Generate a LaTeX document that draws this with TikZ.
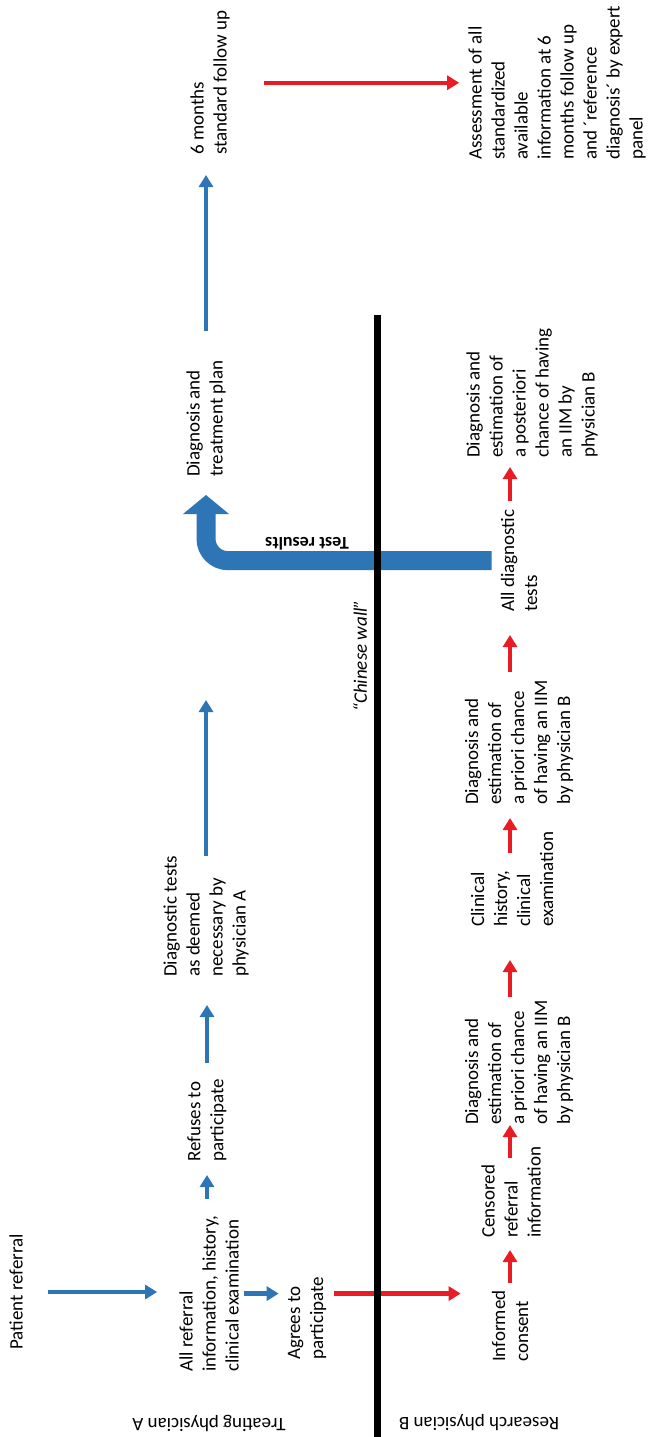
\documentclass[tikz,border=0pt]{standalone}
\usepackage{fontspec}
\setmainfont{Carlito}
\usepackage{xcolor}
\usetikzlibrary{arrows.meta}
\definecolor{flowblue}{RGB}{46,117,182}
\definecolor{flowred}{RGB}{232,28,36}

\begin{document}
\begin{tikzpicture}[x=1pt, y=-1pt,
  txt/.style={rotate=90, anchor=west, align=left, inner sep=0pt, font=\fontsize{19}{23}\selectfont},
  side/.style={rotate=180, inner sep=0pt, font=\fontsize{19}{23}\selectfont},
  bluearr/.style={draw=flowblue, line width=4.5pt, -{Triangle[width=14pt,length=12pt]}},
  redarr/.style={draw=flowred, line width=4.5pt, -{Triangle[width=14pt,length=12pt]}},
  bigarr/.style={draw=flowblue, line width=19pt, rounded corners=22pt, -{Triangle[width=45pt,length=19pt]}},
  wall/.style={line width=7pt, black}]
\fill[white] (0,0) rectangle (648,1437);
\useasboundingbox (0,0) rectangle (648,1437);

% --- treating physician A ---
\node[txt] (ref) at (16,1350) {Patient referral};
\node[txt] (allref) at (209,1372) {All referral\\information, history,\\clinical examination};
\node[txt] (agree) at (307,1360) {Agrees to\\participate};
\node[txt] (refuse) at (207,1162) {Refuses to\\participate};
\node[txt] (dtests) at (206,977) {Diagnostic tests\\as deemed\\necessary by\\physician A};
\node[txt] (plan) at (206,477) {Diagnosis and\\treatment plan};
\node[txt] (follow) at (210,155) {6 months\\standard follow up};
\node[txt] (assess) at (557,160) {Assessment of all\\standardized\\available\\information at 6\\months follow up\\and ´reference\\diagnosis´ by expert\\panel};
\coordinate (dtestsend) at (206,700);

% --- research physician B ---
\node[txt] (consent) at (510,1362) {Informed\\consent};
\node[txt] (censor) at (511,1238) {Censored\\referral\\information};
\node[txt] (prior1) at (519,1125) {Diagnosis and\\estimation of\\a priori chance\\of having an IIM\\by physician B};
\node[txt] (clin) at (512,927) {Clinical\\history,\\clinical\\examination};
\node[txt] (prior2) at (519,805) {Diagnosis and\\estimation of\\a priori chance\\of having an IIM\\by physician B};
\node[txt] (alldiag) at (519,612) {All diagnostic\\tests};
\node[txt] (post) at (532,458) {Diagnosis and\\estimation of\\a posteriori\\chance of having\\an IIM by\\physician B};

% --- side labels ---
\node[side] (labA) at (209,1423) {Treating physician A};
\node[side] (labB) at (479,1423) {Research physician B};
\node[txt, font=\fontsize{19}{23}\selectfont\itshape] (walllabel) at (360,712) {“Chinese wall”};

% --- arrows A ---
\draw[bluearr, shorten <=25pt, shorten >=22pt] (ref.south) -- (ref.south -| allref.north);
\draw[bluearr, shorten <=5pt, shorten >=9pt] (allref.south) -- (allref.south -| agree.north);
\draw[bluearr, shorten <=16pt, shorten >=13pt] (allref.east -| refuse) -- (refuse.west);
\draw[bluearr, shorten <=15pt, shorten >=28pt] (refuse.east) -- (dtests.west -| refuse);
\draw[bluearr] (dtests.east) -- (dtestsend);
\draw[bluearr, shorten <=30pt, shorten >=20pt] (plan.east) -- (plan.east |- follow.west);
\draw[redarr, shorten <=34pt, shorten >=9pt] (follow.south) -- (follow.south -| assess.north);
\draw[redarr, shorten <=8pt, shorten >=31pt] (agree.south |- allref.center) -- (consent.north |- allref.center);

% --- arrows B ---
\foreach \a/\b/\s/\t in {consent/censor/7/12, censor/prior1/-11/0, prior1/clin/3/33,
  clin/prior2/-22/13, prior2/alldiag/8/23, alldiag/post/8/9}{
\draw[redarr, shorten <=\s pt, shorten >=\t pt] (\a.east -| consent) -- (\b.west -| consent);
}

% --- test results back to A ---
\draw[bigarr, shorten <=9pt, shorten >=18pt] (alldiag.north) -| (plan.west);
\node[side, font=\fontsize{18}{22}\selectfont\bfseries] (results) at (307,544) {Test results};

% --- the wall ---
\coordinate (walltop) at (377,315);
\coordinate (wallbot) at (377,1437);
\draw[wall] (walltop) -- (wallbot);
\end{tikzpicture}
\end{document}
